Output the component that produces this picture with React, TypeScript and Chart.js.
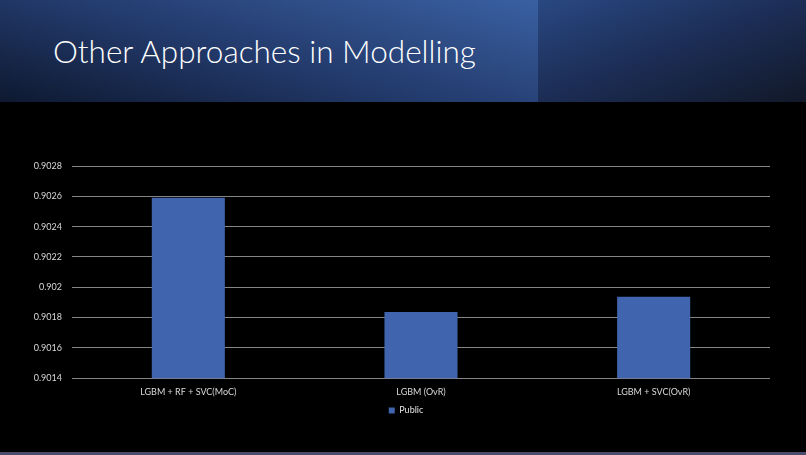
import React, { useEffect, useRef } from 'react';
import { Chart, registerables } from 'chart.js';

Chart.register(...registerables);

const categories = ['LGBM + RF + SVC(MoC)', 'LGBM (OvR)', 'LGBM + SVC(OvR)'];
const publicScores = [0.90259, 0.901836, 0.901937];
const yTicks = [0.9014, 0.9016, 0.9018, 0.902, 0.9022, 0.9024, 0.9026, 0.9028];
const yTickLabels = ['0.9014', '0.9016', '0.9018', '0.902', '0.9022', '0.9024', '0.9026', '0.9028'];

const FONT = 'Lato, "Open Sans", sans-serif';

// the slide's legend sits roughly at the middle of the canvas, not of the padded box
const legendShift = {
  id: 'legendShift',
  afterUpdate(chart: any) {
    const lg = chart.legend;
    if (!lg) return;
    const dx = chart.width / 2 + 3 - (lg.left + lg.right) / 2;
    lg.left += dx;
    lg.right += dx;
  }
};

const App: React.FC = () => {
  const canvasRef = useRef<HTMLCanvasElement | null>(null);
  const chartRef = useRef<Chart | null>(null);

  useEffect(() => {
    if (!canvasRef.current) return;
    if (chartRef.current) chartRef.current.destroy();

    chartRef.current = new Chart(canvasRef.current, {
      type: 'bar',
      data: {
        labels: categories,
        datasets: [{
          label: 'Public',
          data: publicScores,
          backgroundColor: '#4065ae',
          barPercentage: 0.314,
          categoryPercentage: 1
        }]
      },
      options: {
        animation: false,
        responsive: false,
        maintainAspectRatio: false,
        layout: { padding: { top: 64, right: 36, bottom: 27, left: 0 } },
        scales: {
          x: {
            grid: { display: false, drawTicks: false },
            border: { display: false },
            ticks: { color: '#d9d9d9', font: { family: FONT, size: 9 }, padding: 8, maxRotation: 0 }
          },
          y: {
            min: yTicks[0],
            max: yTicks[yTicks.length - 1],
            afterFit: (scale: any) => { scale.width = 72; },
            afterBuildTicks: (scale: any) => {
              scale.ticks = yTicks.map(v => ({ value: v }));
            },
            grid: { color: '#858585', lineWidth: 1, drawTicks: false },
            border: { display: false },
            ticks: {
              color: '#d9d9d9',
              font: { family: FONT, size: 9 },
              padding: 10,
              callback: (value: any) => {
                const i = yTicks.findIndex(t => Math.abs(t - Number(value)) < 1e-9);
                return i >= 0 ? yTickLabels[i] : '';
              }
            }
          }
        },
        plugins: {
          legend: {
            position: 'bottom',
            labels: {
              color: '#e6e6e6',
              font: { family: FONT, size: 9 },
              boxWidth: 6,
              boxHeight: 6,
              padding: 1
            }
          },
          tooltip: { enabled: false }
        }
      },
      plugins: [legendShift]
    });

    return () => {
      if (chartRef.current) {
        chartRef.current.destroy();
        chartRef.current = null;
      }
    };
  }, []);

  return (
    <div style={{ position: 'fixed', left: 0, top: 0, width: 806, height: 455, background: '#000', overflow: 'hidden' }}>
      <div style={{
        position: 'absolute', left: 0, top: 0, width: 538, height: 102,
        background: 'linear-gradient(15deg, #0e1930 0%, #22396a 45%, #3a60a2 100%)'
      }} />
      <div style={{
        position: 'absolute', left: 538, top: 0, width: 268, height: 102,
        background: 'linear-gradient(160deg, #294882 0%, #1c2d55 50%, #111828 100%)'
      }} />
      <div style={{
        position: 'absolute', left: 53, top: 32, color: '#fff',
        fontFamily: FONT, fontWeight: 300, fontSize: 31.5, whiteSpace: 'nowrap'
      }}>
        Other Approaches in Modelling
      </div>
      <div style={{ position: 'absolute', left: 0, top: 102, width: 806, height: 350 }}>
        <canvas ref={canvasRef} width={806} height={350} />
      </div>
      <div style={{ position: 'absolute', left: 0, top: 452, width: 806, height: 3, background: '#4a4c6c' }} />
    </div>
  );
};

export default App;
